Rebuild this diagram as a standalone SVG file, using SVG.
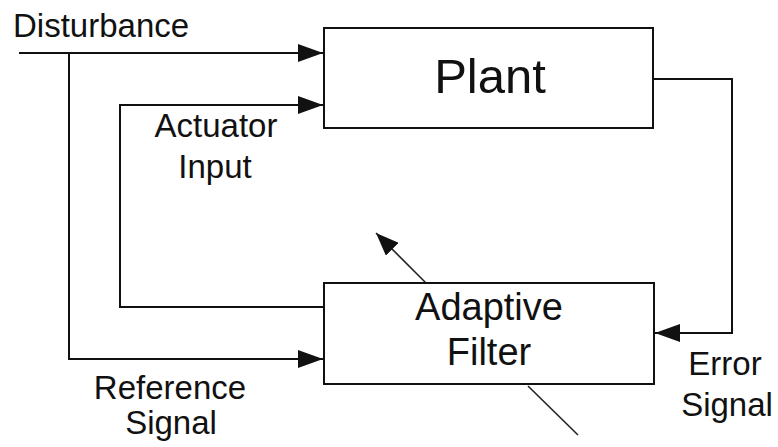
<svg xmlns="http://www.w3.org/2000/svg" width="778" height="447" viewBox="0 0 778 447">
  <style>
    .box { fill: #ffffff; stroke: #111111; stroke-width: 2; }
    .wire { fill: none; stroke: #111111; stroke-width: 2; }
    .thin { fill: none; stroke: #222222; stroke-width: 1.6; }
    text { font-family: "Liberation Sans", Arial, sans-serif; fill: #111111; }
    .lbl { font-size: 33px; }
    .mid { text-anchor: middle; }
  </style>
  <defs>
    <marker id="arrow" markerUnits="userSpaceOnUse" markerWidth="26" markerHeight="18" refX="25" refY="9" orient="auto">
      <path d="M0,0 L25,9 L0,18 z" fill="#111111"/>
    </marker>
    <marker id="arrowSmall" markerUnits="userSpaceOnUse" markerWidth="24" markerHeight="18" refX="23" refY="9" orient="auto">
      <path d="M0,0 L23,9 L0,18 z" fill="#111111"/>
    </marker>
  </defs>

  <rect width="778" height="447" fill="#ffffff"/>

  <!-- signal lines -->
  <g id="connectors">
    <!-- disturbance into plant, branching down as the reference signal -->
    <path class="wire" d="M19,53 H323" marker-end="url(#arrow)"/>
    <path class="wire" d="M69,53 V359 H323" marker-end="url(#arrow)"/>
    <!-- actuator input: filter output back to plant -->
    <path class="wire" d="M324,307 H120 V105 H323" marker-end="url(#arrow)"/>
    <!-- error signal: plant output back to filter -->
    <path class="wire" d="M653,79 H732 V333 H655" marker-end="url(#arrow)"/>
    <!-- adaptation slash through the filter -->
    <path class="thin" d="M426,283 L376,233" marker-end="url(#arrowSmall)"/>
    <path class="thin" d="M528,386 L578,435"/>
  </g>

  <g id="plant">
    <rect class="box" x="324" y="28" width="329" height="100"/>
    <text x="490" y="93" class="mid" font-size="49">Plant</text>
  </g>

  <g id="adaptive-filter">
    <rect class="box" x="324" y="283" width="330" height="101"/>
    <text x="489" y="320" class="mid" font-size="38">Adaptive</text>
    <text x="489" y="365" class="mid" font-size="38">Filter</text>
  </g>

  <g id="labels">
    <text x="13" y="37" class="lbl">Disturbance</text>
    <text x="216" y="137" class="lbl mid">Actuator</text>
    <text x="215" y="178" class="lbl mid">Input</text>
    <text x="170" y="399" class="lbl mid">Reference</text>
    <text x="171" y="434" class="lbl mid">Signal</text>
    <text x="725" y="375" class="lbl mid">Error</text>
    <text x="727" y="416" class="lbl mid">Signal</text>
  </g>
</svg>
